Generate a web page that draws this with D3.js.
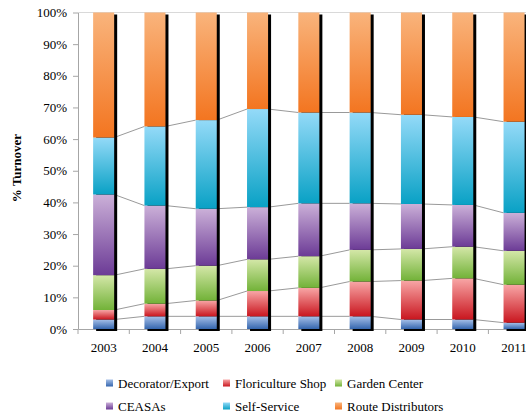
<!DOCTYPE html>
<html>
<head>
<meta charset="utf-8">
<script src="https://cdn.jsdelivr.net/npm/d3@7"></script>
<style>
  body { margin: 0; background: #fff; }
  svg text { font-family: 'Liberation Serif', 'Times New Roman', serif !important; fill: #000; }
</style>
</head>
<body>
<svg id="chart" width="526" height="414"></svg>
<script>
// values, % of turnover per year
const years = ["2003", "2004", "2005", "2006", "2007", "2008", "2009", "2010", "2011"];
const seriesNames = ["Decorator/Export", "Floriculture Shop", "Garden Center", "CEASAs", "Self-Service", "Route Distributors"];
const decorator = [3, 4, 4, 4, 4, 4, 3, 3, 2];
const floriculture = [3, 4, 5, 8, 9, 11, 12.3, 13, 12];
const garden = [11, 11, 11, 10, 10, 10, 10, 10, 10.7];
const ceasas = [25.5, 20, 18, 16.5, 16.7, 14.7, 14.2, 13.2, 12];
const selfService = [18, 25, 28, 31, 28.7, 28.7, 28.2, 27.8, 28.8];
const route = [39.5, 36, 34, 30.5, 31.6, 31.6, 32.3, 33, 34.5];
const yTicks = [0, 10, 20, 30, 40, 50, 60, 70, 80, 90, 100];

const seriesValues = [decorator, floriculture, garden, ceasas, selfService, route];
// top / bottom gradient colours
const gradColors = [
  ["#a6c0e8", "#3566ae"],
  ["#f8a6a6", "#c9161f"],
  ["#d4e7a8", "#72b238"],
  ["#cbb0d8", "#6c3b96"],
  ["#94daf8", "#09a1c5"],
  ["#f9b47c", "#f37520"]
];

const svg = d3.select("#chart");
const plotLeft = 78, plotTop = 12.5, plotBottom = 329;

const table = years.map((yr, i) => {
  const row = { year: yr };
  seriesNames.forEach((s, j) => row[s] = seriesValues[j][i]);
  return row;
});
const stacked = d3.stack().keys(seriesNames)(table);

const x = d3.scaleBand().domain(years).range([plotLeft, plotLeft + 9 * 51.3]);
const y = d3.scaleLinear().domain([0, 100]).range([plotBottom, plotTop]);
const barW = x.bandwidth() * 0.41;
const barX = d => x(d) + (x.bandwidth() - barW) / 2;

const defs = svg.append("defs");
gradColors.forEach((c, j) => {
  const g = defs.append("linearGradient")
    .attr("id", "g" + j)
    .attr("x1", 0).attr("y1", 0).attr("x2", 0).attr("y2", 1);
  g.append("stop").attr("offset", "0%").attr("stop-color", c[0]);
  g.append("stop").attr("offset", "100%").attr("stop-color", c[1]);
});

// frame
svg.append("line")
  .attr("x1", plotLeft).attr("x2", 526).attr("y1", plotTop).attr("y2", plotTop)
  .attr("stroke", "#d9d9d9");

const yAxis = svg.append("g")
  .attr("transform", `translate(${plotLeft},0)`)
  .call(d3.axisLeft(y).tickValues(yTicks).tickFormat(d => d + "%").tickSize(5).tickSizeOuter(0));
yAxis.attr("font-family", null);
yAxis.select(".domain").attr("stroke", "#a6a6a6");
yAxis.selectAll(".tick line").attr("stroke", "#a6a6a6");
yAxis.selectAll(".tick text")
  .attr("x", -11)
  .style("font-size", "13px");

const xAxis = svg.append("g")
  .attr("transform", `translate(0,${plotBottom})`)
  .call(d3.axisBottom(x).tickSize(0).tickSizeOuter(0));
xAxis.attr("font-family", null);
xAxis.select(".domain").attr("stroke", "#a6a6a6");
xAxis.selectAll(".tick text")
  .attr("y", 14)
  .style("font-size", "13px");
// boundary ticks between categories
xAxis.selectAll(".bound")
  .data(years)
  .enter().append("line")
  .attr("x1", d => x(d)).attr("x2", d => x(d))
  .attr("y1", 0).attr("y2", 5)
  .attr("stroke", "#a6a6a6");

// connector lines between bars
const boundaries = stacked.slice(0, 5);
svg.append("g").selectAll("path")
  .data(boundaries)
  .enter().append("path")
  .attr("fill", "none")
  .attr("stroke", "#7f7f7f")
  .attr("stroke-width", 0.8)
  .attr("d", s => {
    let d = "";
    for (let i = 0; i < years.length - 1; i++) {
      const x0 = barX(years[i]) + barW;
      const x1 = barX(years[i + 1]);
      d += `M${x0},${y(s[i][1])}L${x1},${y(s[i + 1][1])}`;
    }
    return d;
  });

// shadows
svg.append("g").selectAll("rect")
  .data(years)
  .enter().append("rect")
  .attr("x", d => barX(d) + 3)
  .attr("y", y(100) + 2)
  .attr("width", barW)
  .attr("height", y(0) - y(100))
  .attr("fill", "#000");

// stacked segments
svg.append("g").selectAll("g")
  .data(stacked)
  .enter().append("g")
  .attr("fill", (s, j) => `url(#g${j})`)
  .selectAll("rect")
  .data(s => s)
  .enter().append("rect")
  .attr("x", d => barX(d.data.year))
  .attr("y", d => y(d[1]))
  .attr("width", barW)
  .attr("height", d => y(d[0]) - y(d[1]));

// y label
svg.append("text")
  .attr("transform", "translate(21,168) rotate(-90)")
  .attr("text-anchor", "middle")
  .style("font-size", "13px")
  .style("font-weight", "bold")
  .text("% Turnover");

// legend
const legX = [106, 223, 335];
const legend = svg.append("g").selectAll("g")
  .data(seriesNames)
  .enter().append("g")
  .attr("transform", (d, j) => `translate(${legX[j % 3]},${j < 3 ? 383 : 406})`);
legend.append("rect")
  .attr("x", 0).attr("y", -3.5).attr("width", 7).attr("height", 7)
  .attr("fill", (d, j) => `url(#g${j})`);
legend.append("text")
  .attr("x", 12).attr("y", 4.5)
  .style("font-size", "13px")
  .text(d => d);
</script>
</body>
</html>
